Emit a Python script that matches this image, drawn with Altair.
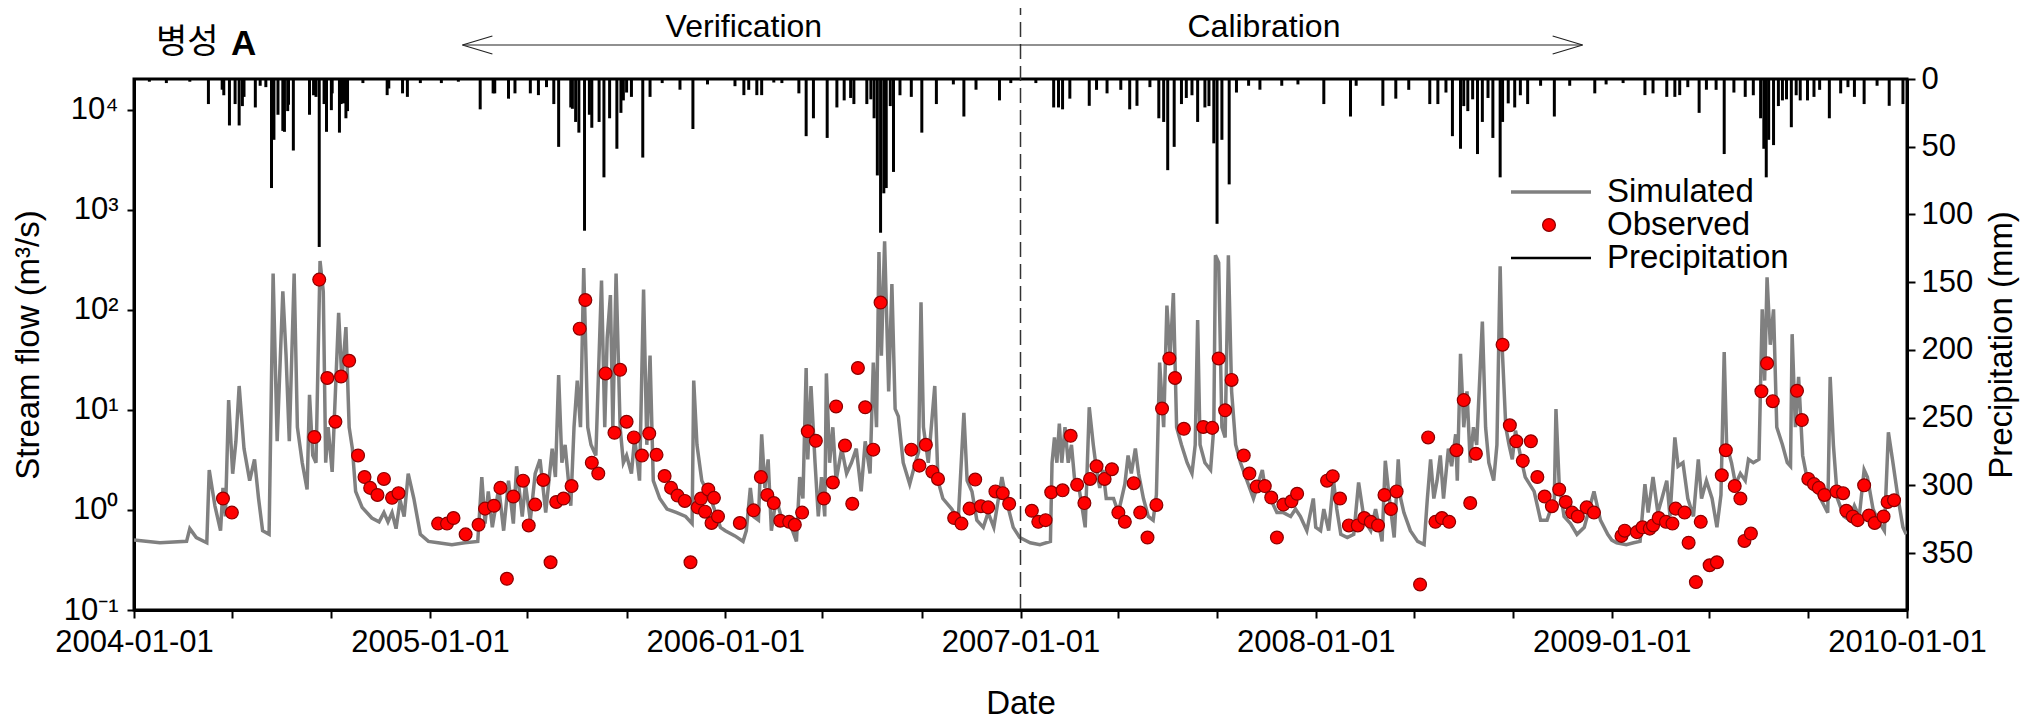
import altair as alt
import pandas as pd

# ---------------- data ----------------
sim_dates = [
    "2004-01-01","2004-02-02","2004-03-06","2004-03-10","2004-03-18","2004-03-31","2004-04-03","2004-04-10","2004-04-17","2004-04-20",
    "2004-04-23","2004-04-27","2004-05-02","2004-05-06","2004-05-10","2004-05-16","2004-05-23","2004-05-29","2004-06-03","2004-06-08",
    "2004-06-16","2004-06-21","2004-06-26","2004-07-03","2004-07-07","2004-07-11","2004-07-17","2004-07-21","2004-07-27","2004-08-02",
    "2004-08-05","2004-08-09","2004-08-13","2004-08-18","2004-08-22","2004-08-25","2004-08-28","2004-09-02","2004-09-10","2004-09-14",
    "2004-09-19","2004-09-23","2004-09-27","2004-10-01","2004-10-09","2004-10-21","2004-10-30","2004-11-05","2004-11-10","2004-11-15",
    "2004-11-20","2004-11-25","2004-11-30","2004-12-05","2004-12-12","2004-12-20","2004-12-30",
    "2005-01-11","2005-01-28","2005-02-13","2005-03-01","2005-03-06","2005-03-10","2005-03-14","2005-03-19","2005-03-27","2005-04-02",
    "2005-04-08","2005-04-14","2005-04-18","2005-04-25","2005-04-29","2005-05-05","2005-05-11","2005-05-17","2005-05-24","2005-06-01",
    "2005-06-05","2005-06-09","2005-06-13","2005-06-17","2005-06-24","2005-06-28","2005-07-02","2005-07-06","2005-07-10","2005-07-15",
    "2005-07-19","2005-07-25","2005-08-01","2005-08-05","2005-08-08","2005-08-12","2005-08-15","2005-08-19","2005-08-24","2005-08-28",
    "2005-09-01","2005-09-07","2005-09-11","2005-09-17","2005-09-22","2005-09-26","2005-09-30","2005-10-04","2005-10-12","2005-10-21",
    "2005-11-02","2005-11-13","2005-11-21","2005-11-23","2005-11-27","2005-12-03","2005-12-14","2005-12-26",
    "2006-01-01","2006-01-13","2006-01-23","2006-01-27","2006-02-01","2006-02-05","2006-02-11","2006-02-15","2006-02-19","2006-02-23",
    "2006-02-27","2006-03-05","2006-03-11","2006-03-22","2006-03-30","2006-04-03","2006-04-07","2006-04-11","2006-04-13","2006-04-17",
    "2006-04-22","2006-04-26","2006-04-30","2006-05-04","2006-05-06","2006-05-10","2006-05-14","2006-05-18","2006-05-25","2006-05-31",
    "2006-06-06","2006-06-12","2006-06-18","2006-06-23","2006-06-29","2006-07-03","2006-07-07","2006-07-10","2006-07-13","2006-07-17",
    "2006-07-22","2006-07-26","2006-07-30","2006-08-03","2006-08-09","2006-08-17","2006-08-24","2006-08-28","2006-08-31","2006-09-03",
    "2006-09-09","2006-09-17","2006-09-21","2006-09-27","2006-10-08","2006-10-16","2006-10-23","2006-10-27","2006-11-02","2006-11-08",
    "2006-11-16","2006-11-22","2006-11-29","2006-12-09","2006-12-15","2006-12-23","2006-12-31",
    "2007-01-13","2007-01-25","2007-02-07","2007-02-09","2007-02-12","2007-02-15","2007-02-18","2007-02-21","2007-02-25","2007-03-01",
    "2007-03-05","2007-03-09","2007-03-15","2007-03-22","2007-03-27","2007-04-01","2007-04-05","2007-04-09","2007-04-13","2007-04-17",
    "2007-04-26","2007-05-02","2007-05-06","2007-05-10","2007-05-14","2007-05-18","2007-05-23","2007-05-27","2007-06-02","2007-06-08",
    "2007-06-14","2007-06-18","2007-06-22","2007-06-27","2007-07-01","2007-07-05","2007-07-09","2007-07-13","2007-07-19","2007-07-26",
    "2007-08-01","2007-08-05","2007-08-08","2007-08-11","2007-08-17","2007-08-24","2007-08-28","2007-08-30","2007-09-03","2007-09-07",
    "2007-09-11","2007-09-15","2007-09-19","2007-09-24","2007-09-30","2007-10-08","2007-10-16","2007-10-27","2007-10-31","2007-11-06",
    "2007-11-14","2007-11-22","2007-12-01","2007-12-07","2007-12-13","2007-12-21","2007-12-29",
    "2008-01-01","2008-01-07","2008-01-11","2008-01-17","2008-01-23","2008-01-27","2008-02-01","2008-02-09","2008-02-17","2008-02-23",
    "2008-03-01","2008-03-09","2008-03-15","2008-03-23","2008-03-27","2008-04-01","2008-04-07","2008-04-12","2008-04-15","2008-04-19",
    "2008-04-27","2008-05-06","2008-05-14","2008-05-18","2008-05-22","2008-05-26","2008-05-30","2008-06-03","2008-06-07","2008-06-13",
    "2008-06-17","2008-06-22","2008-06-24","2008-06-28","2008-07-02","2008-07-06","2008-07-10","2008-07-14","2008-07-18","2008-07-25",
    "2008-07-29","2008-08-02","2008-08-08","2008-08-12","2008-08-16","2008-08-18","2008-08-23","2008-08-27","2008-08-31","2008-09-04",
    "2008-09-10","2008-09-16","2008-09-27","2008-10-05","2008-10-13","2008-10-22","2008-10-24","2008-10-28","2008-11-03","2008-11-11",
    "2008-11-19","2008-11-28","2008-12-10","2008-12-18","2008-12-27",
    "2009-01-01","2009-01-07","2009-01-19","2009-01-28","2009-02-05","2009-02-11","2009-02-15","2009-02-21","2009-02-27","2009-03-04",
    "2009-03-10","2009-03-14","2009-03-20","2009-03-24","2009-03-30","2009-04-05","2009-04-12","2009-04-18","2009-04-22","2009-04-28",
    "2009-05-05","2009-05-11","2009-05-16","2009-05-20","2009-05-23","2009-05-29","2009-06-03","2009-06-09","2009-06-15","2009-06-19",
    "2009-06-25","2009-07-02","2009-07-06","2009-07-09","2009-07-12","2009-07-16","2009-07-20","2009-07-24","2009-07-31","2009-08-06",
    "2009-08-10","2009-08-12","2009-08-16","2009-08-20","2009-08-25","2009-08-31","2009-09-08","2009-09-16","2009-09-25","2009-09-28",
    "2009-10-02","2009-10-07","2009-10-15","2009-10-22","2009-10-28","2009-11-03","2009-11-09","2009-11-13","2009-11-20","2009-11-26",
    "2009-12-04","2009-12-09","2009-12-14","2009-12-21","2009-12-27","2009-12-31",
]
sim_q = [
    0.50,0.47,0.485,0.65,0.53,0.47,2.5,1.1,0.62,1.66,
    0.86,12.5,2.3,4.85,17.3,4.1,1.96,3.2,1.3,0.62,
    0.57,230,4.85,153,34.8,4.85,230,6.7,2.96,1.6,
    14.1,3.5,2.96,307,153,2.96,6.7,2.4,93,19.6,
    67,6.7,4.1,1.53,1.06,0.83,0.76,0.94,0.76,0.94,
    0.65,1.25,0.86,2.3,1.3,0.57,0.485,
    0.47,0.45,0.47,0.485,2.13,0.73,1.53,0.67,1.66,0.62,
    1.96,0.73,2.73,0.86,1.81,0.79,2.31,3.2,0.94,4.1,
    2.13,22.2,2.96,4.47,1.1,6.7,19.6,6.7,261,6.7,
    4.47,3.5,196,6.7,52,140,6.7,230,6.7,2.96,
    3.5,2.31,5.3,1.96,159,4.47,34.8,1.96,1.3,1.02,
    0.94,0.86,0.73,19.6,4.47,1.96,1.3,0.67,
    0.62,0.55,0.485,0.62,1.66,0.86,0.79,5.7,1.66,3.2,
    0.62,1.3,0.86,0.73,0.485,2.13,1.3,26.2,3.2,17.3,
    2.96,0.86,2.13,0.86,23.1,2.96,6.7,1.96,4.1,2.31,
    2.96,4.1,1.53,4.85,2.31,29.6,6.7,378,34.8,483,
    15.3,181,10.2,8.6,2.96,1.81,2.96,3.8,119,6.7,
    2.96,17.3,1.96,1.3,1.02,0.79,9.35,1.96,1.53,0.79,
    0.67,0.94,0.67,2.13,1.2,0.67,0.53,
    0.47,0.45,0.485,2.96,5.3,2.96,7.3,2.96,6.7,2.96,
    4.47,1.96,1.53,0.67,10.6,4.47,2.51,1.66,2.51,1.3,
    1.3,0.94,1.3,1.81,3.5,2.31,4.1,2.31,1.3,0.86,
    0.79,1.41,29.6,6.7,110,34.8,147,6.7,4.47,2.96,
    2.31,4.47,79,4.47,2.96,2.51,6.7,350,296,6.7,
    5.3,350,15.3,4.47,2.96,1.96,1.3,2.51,1.53,1.3,
    0.94,0.94,0.86,1.02,0.86,0.62,1.3,
    0.67,0.62,1.02,0.62,1.96,1.02,0.57,0.53,0.57,1.88,
    0.79,0.62,1.02,0.485,3.1,1.3,0.53,3.2,1.3,0.94,
    0.62,0.485,0.45,1.3,3.2,1.3,1.96,3.5,1.3,4.1,
    2.73,5.7,1.96,36.3,6.7,15.3,2.96,6.7,4.47,76,
    6.7,2.96,1.96,4.47,272,52,6.7,4.47,3.2,6.2,
    3.5,2.13,1.53,0.79,0.79,1.3,10.2,1.81,0.86,0.73,
    0.57,0.67,1.53,0.79,0.57,
    0.5,0.47,0.45,0.47,0.485,1.81,0.94,2.13,0.94,1.3,
    1.96,0.86,5.3,2.73,2.96,1.3,0.86,3.2,1.3,1.96,
    1.3,0.67,1.41,37.8,4.47,2.96,1.81,2.31,1.96,3.2,
    2.96,3.2,101,19.6,211,44.7,101,6.7,4.47,2.96,
    2.73,57,6.7,21.3,3.5,1.96,1.81,1.3,0.94,21.3,
    4.47,1.3,0.86,0.79,1.1,0.86,2.51,2.13,1.02,0.79,
    0.62,5.96,3.2,1.3,0.67,0.57,
]

obs_dates = [
    "2004-04-20","2004-05-01","2004-08-11","2004-08-17","2004-08-27","2004-09-06","2004-09-13","2004-09-23","2004-10-04","2004-10-12",
    "2004-10-19","2004-10-28","2004-11-05","2004-11-15","2004-11-23",
    "2005-01-11","2005-01-22","2005-01-30","2005-02-14","2005-03-02","2005-03-10","2005-03-21","2005-03-29","2005-04-06","2005-04-14",
    "2005-04-26","2005-05-03","2005-05-11","2005-05-21","2005-05-30","2005-06-06","2005-06-15","2005-06-25","2005-07-05","2005-07-12",
    "2005-07-20","2005-07-28","2005-08-06","2005-08-17","2005-08-24","2005-09-01","2005-09-10","2005-09-20","2005-09-29","2005-10-08",
    "2005-10-18","2005-10-26","2005-11-03","2005-11-12","2005-11-19","2005-11-28","2005-12-02","2005-12-07","2005-12-11","2005-12-15",
    "2005-12-18","2005-12-23",
    "2006-01-19","2006-02-05","2006-02-14","2006-02-22","2006-03-02","2006-03-10","2006-03-21","2006-03-28","2006-04-06","2006-04-13",
    "2006-04-23","2006-05-03","2006-05-14","2006-05-18","2006-05-29","2006-06-07","2006-06-14","2006-06-23","2006-07-03","2006-07-12",
    "2006-08-19","2006-08-29","2006-09-06","2006-09-14","2006-09-21","2006-10-11","2006-10-20","2006-10-30","2006-11-06","2006-11-13",
    "2006-11-22","2006-12-01","2006-12-10","2006-12-18",
    "2007-01-15","2007-01-23","2007-02-01","2007-02-08","2007-02-22","2007-03-04","2007-03-12","2007-03-21","2007-03-28","2007-04-05",
    "2007-04-15","2007-04-24","2007-05-02","2007-05-10","2007-05-21","2007-05-29","2007-06-07","2007-06-18","2007-06-25","2007-07-04",
    "2007-07-11","2007-07-22","2007-08-15","2007-08-26","2007-09-03","2007-09-11","2007-09-19","2007-10-04","2007-10-11","2007-10-20",
    "2007-10-30","2007-11-07","2007-11-14","2007-11-22","2007-12-02","2007-12-09",
    "2008-01-15","2008-01-22","2008-01-31","2008-02-11","2008-02-22","2008-03-01","2008-03-09","2008-03-18","2008-03-26","2008-04-03",
    "2008-04-10","2008-05-09","2008-05-19","2008-05-28","2008-06-05","2008-06-14","2008-06-23","2008-07-02","2008-07-10","2008-07-17",
    "2008-08-19","2008-08-28","2008-09-05","2008-09-13","2008-09-23","2008-10-01","2008-10-10","2008-10-19","2008-10-28","2008-11-05",
    "2008-11-13","2008-11-20","2008-12-01","2008-12-10",
    "2009-01-13","2009-01-17","2009-02-01","2009-02-08","2009-02-17","2009-02-21","2009-02-28","2009-03-09","2009-03-17","2009-03-21",
    "2009-04-01","2009-04-06","2009-04-15","2009-04-21","2009-05-02","2009-05-11","2009-05-17","2009-05-22","2009-06-02","2009-06-09",
    "2009-06-14","2009-06-22","2009-07-05","2009-07-12","2009-07-19","2009-08-18","2009-08-24","2009-09-01","2009-09-08","2009-09-14",
    "2009-09-21","2009-10-06","2009-10-14","2009-10-18","2009-10-26","2009-11-01","2009-11-09","2009-11-15","2009-11-22","2009-12-03",
    "2009-12-08","2009-12-16",
]
obs_q = [
    1.30,0.94,5.35,200,20.8,7.6,21.5,30.9,3.5,2.13,
    1.66,1.41,2.04,1.32,1.47,
    0.73,0.73,0.83,0.57,0.71,1.03,1.10,1.66,0.205,1.36,
    1.96,0.70,1.13,1.99,0.30,1.20,1.30,1.73,64.7,125,
    2.96,2.31,23.1,5.9,25.1,7.6,5.3,3.49,5.8,3.55,
    2.18,1.66,1.39,1.23,0.30,1.06,1.30,0.96,1.6,0.74,
    1.32,0.86,
    0.74,0.99,2.13,1.41,1.17,0.78,0.76,0.71,0.94,6.1,
    4.9,1.30,1.88,10.8,4.4,1.15,26.2,10.6,4.0,118,
    4.0,2.77,4.47,2.41,2.04,0.83,0.73,1.03,2.01,1.09,
    1.06,1.53,1.47,1.15,
    0.98,0.76,0.79,1.50,1.57,5.5,1.78,1.17,2.04,2.73,
    2.04,2.55,0.94,0.76,1.85,0.94,0.53,1.12,10.3,32.6,
    20.8,6.46,6.74,6.6,32.6,9.9,19.9,3.49,2.31,1.71,
    1.73,1.33,0.53,1.13,1.22,1.45,
    1.96,2.17,1.30,0.70,0.70,0.83,0.76,0.70,1.41,1.02,
    1.53,0.18,5.3,0.76,0.83,0.76,3.95,12.5,1.17,3.64,
    44.7,7.0,4.85,3.09,4.85,2.13,1.36,1.09,1.60,1.20,
    0.94,0.86,1.06,0.94,
    0.55,0.62,0.60,0.67,0.65,0.70,0.83,0.76,0.73,1.03,
    0.94,0.47,0.19,0.76,0.28,0.30,2.22,3.95,1.73,1.30,
    0.49,0.58,15.3,29.1,12.2,15.5,7.9,2.04,1.81,1.66,
    1.41,1.53,1.47,0.98,0.86,0.79,1.76,0.88,0.74,0.86,
    1.20,1.25,
]

rain_dates = [
    "2004-04-02","2004-04-19","2004-04-28","2004-05-05","2004-05-10","2004-05-16","2004-05-30","2004-06-19","2004-06-22","2004-06-27",
    "2004-07-03","2004-07-09","2004-07-16","2004-08-05","2004-08-13","2004-08-17","2004-08-23","2004-09-02","2004-09-11","2004-09-13",
    "2004-09-19","2004-09-21","2004-11-09","2004-11-28","2004-12-04",
    "2004-01-20","2004-02-10","2004-03-10","2004-04-21","2004-05-14","2004-06-05","2004-06-12","2004-07-05","2004-07-10","2004-08-10",
    "2004-08-26","2004-09-01","2004-09-16","2004-10-10","2004-11-11","2004-12-20",
    "2005-03-04","2005-03-20","2005-04-08","2005-04-16","2005-05-05","2005-05-15","2005-06-03","2005-06-09","2005-06-24","2005-06-30",
    "2005-07-04","2005-07-11","2005-07-17","2005-07-29","2005-08-04","2005-08-11","2005-08-20","2005-08-28","2005-09-07","2005-09-21",
    "2005-09-30","2005-11-06","2005-11-22",
    "2005-01-15","2005-02-05","2005-03-22","2005-05-25","2005-06-26","2005-07-20","2005-08-25","2005-09-01","2005-10-15","2005-12-10",
    "2006-01-13","2006-01-24","2006-02-09","2006-02-15","2006-03-02","2006-04-02","2006-04-11","2006-04-20","2006-05-07","2006-05-19",
    "2006-05-28","2006-06-09","2006-06-25","2006-07-04","2006-07-08","2006-07-12","2006-07-16","2006-07-19","2006-07-28","2006-08-19",
    "2006-09-01","2006-09-19","2006-10-23","2006-11-07","2006-12-06",
    "2006-01-30","2006-03-12","2006-06-05","2006-06-30","2006-07-24","2006-08-05","2006-10-10","2006-12-20",
    "2007-02-11","2007-02-17","2007-02-22","2007-03-03","2007-03-27","2007-04-18","2007-05-16","2007-05-25","2007-06-21","2007-06-27",
    "2007-07-02","2007-07-10","2007-07-19","2007-08-08","2007-08-17","2007-08-28","2007-09-01","2007-09-07","2007-09-16","2007-10-24",
    "2007-01-20","2007-04-05","2007-05-05","2007-06-10","2007-07-25","2007-08-01","2007-08-22","2007-09-25","2007-10-10","2007-11-20",
    "2007-12-10",
    "2008-01-11","2008-02-13","2008-03-24","2008-04-09","2008-05-21","2008-05-31","2008-06-18","2008-06-28","2008-07-07","2008-07-19",
    "2008-07-25","2008-08-07","2008-08-16","2008-08-19","2008-09-03","2008-09-19","2008-10-22","2008-12-11",
    "2008-02-20","2008-04-25","2008-06-10","2008-07-02","2008-07-13","2008-08-01","2008-08-26","2008-09-10","2008-10-05","2008-11-10",
    "2008-12-25",
    "2009-02-11","2009-02-21","2009-03-10","2009-03-20","2009-03-26","2009-04-19","2009-04-28","2009-05-20","2009-06-15","2009-07-04",
    "2009-07-08","2009-07-11","2009-07-14","2009-07-20","2009-07-31","2009-08-11","2009-08-22","2009-08-31","2009-09-08","2009-09-27",
    "2009-10-11","2009-10-28","2009-11-09","2009-12-10","2009-12-27",
    "2009-01-15","2009-04-05","2009-05-10","2009-06-01","2009-06-25","2009-07-26","2009-08-05","2009-08-17","2009-09-15","2009-10-20",
    "2009-11-25",
]
rain_mm = [
    18.5,7.9,34.3,18.5,34.3,13.2,21,80.5,44.9,26.4,
    38.3,23.7,52.8,26.4,13.2,124,18.5,10.6,39.6,18.5,
    29,23.7,11.9,10.6,13.2,
    2,3,2,12,20,5,6,39,19,12,
    39,23,18,3,7,3,
    22.4,10.6,14.5,10.6,10.6,11.9,18.5,50.1,21,31.7,
    39.6,112,26.4,31.7,72.6,29,51.5,15.8,13.2,58,
    13.2,7.9,36.9,
    3,2,10.6,6,22,36,25,10,3,4,
    5.3,11.9,11.9,11.9,2.6,10.6,42.2,29,43.5,21,
    15.8,18.5,18.5,29,71.2,113.5,84.4,80.5,68.6,13.2,
    39.6,18.5,27.7,7.9,15.8,
    8,3,14,15,20,12,4,3,
    21,21,22.4,14.5,19.8,10.6,22.4,19.8,29,31.7,
    67.3,50.1,18.5,31.7,21,47.5,106.9,44.9,77.8,7.9,
    3,8,8,6,14,12,20,10,5,5,
    4,
    18.5,27.7,19.8,14.5,18.5,18.5,42.2,51.5,23.7,55.4,
    31.7,43.5,72.6,31.7,21,18.5,27.7,10.6,
    5,8,10,20,15,14,18,12,5,5,
    4,
    11.9,10.6,13.2,13.2,11.9,25,7.9,55.4,13.2,29,
    51.5,72.6,44.9,48.8,15.8,35.6,15.8,15.8,13.2,29,
    10.6,13.2,18.5,19.8,18.5,
    3,6,8,10,12,20,15,12,8,6,
    5,
]

flow_ticks = [0.1, 1, 10, 100, 1000, 10000]
rain_ticks = [0, 50, 100, 150, 200, 250, 300, 350]
legend_labels = ["Simulated", "Observed", "Precipitation"]
period_labels = ["Verification", "Calibration"]

# ---------------- chart ----------------
FONT = "Liberation Sans"
W, H = 1773, 531

sim = pd.DataFrame({"date": sim_dates, "q": sim_q})
obs = pd.DataFrame({"date": obs_dates, "q": obs_q})
rain = pd.DataFrame({"date": rain_dates, "p": rain_mm})

def ms(s):
    return int(pd.Timestamp(s).value // 10**6)

x_ticks = [ms(f"{y}-{m:02d}-01") for y in range(2004, 2010) for m in (1, 5, 9)] + [ms("2010-01-01")]

x_scale = alt.Scale(type="utc", domain=[ms("2004-01-01"), ms("2010-01-01")], nice=False)
x_axis = alt.Axis(
    values=x_ticks,
    labelExpr="utcmonth(datum.value) == 0 ? utcFormat(datum.value, '%Y-%m-%d') : ''",
    title="Date", grid=False, tickSize=8, labelPadding=9, labelFlush=False,
    titleX=W / 2, titleY=93, titleBaseline="middle", titleAlign="center",
)
X = alt.X("date:T", scale=x_scale, axis=x_axis)

flow_scale = alt.Scale(type="log", domain=[0.1, 20200], nice=False)
flow_axis = alt.Axis(
    orient="left", values=flow_ticks, grid=False, tickSize=7, labelPadding=9,
    labelExpr="datum.value < 0.5 ? '10\u207b\u00b9' : datum.value < 5 ? '10\u2070' : datum.value < 50 ? '10\u00b9' : datum.value < 500 ? '10\u00b2' : datum.value < 5000 ? '10\u00b3' : '10\u2074'",
    title="Stream flow (m\u00b3/s)",
    titleX=-106, titleY=H / 2, titleAngle=270, titleBaseline="middle", titleAlign="center",
)

line = alt.Chart(sim).mark_line(color="#808080", strokeWidth=3.5, clip=True).encode(
    x=X, y=alt.Y("q:Q", scale=flow_scale, axis=flow_axis)
)
pts = alt.Chart(obs).mark_point(
    filled=True, shape="circle", size=165, fill="#FF0000", stroke="#8B0000",
    strokeWidth=1.2, opacity=1,
).encode(x=X, y=alt.Y("q:Q", scale=flow_scale, axis=flow_axis))

flow = alt.layer(line, pts)

rain_layer = alt.Chart(rain).mark_rule(color="black", strokeWidth=3).encode(
    x=X,
    y=alt.Y("p:Q", scale=alt.Scale(domain=[0, 392], reverse=True, nice=False),
            axis=alt.Axis(orient="right", values=rain_ticks, grid=False, tickSize=8,
                          labelPadding=6, title="Precipitation (mm)",
                          titleX=94, titleY=H / 2, titleAngle=270,
                          titleBaseline="middle", titleAlign="center")),
    y2=alt.datum(0),
)

# dashed separator between verification and calibration periods
sep = alt.Chart(pd.DataFrame({"date": ["2007-01-01"]})).mark_rule(
    color="#333333", strokeWidth=1.5, strokeDash=[15, 7]
).encode(x=X, y=alt.value(-79), y2=alt.value(H))

# period arrow
arrow_df = pd.DataFrame({"date": ["2005-02-10"], "date2": ["2008-11-26"]})
arrow = alt.Chart(arrow_df).mark_rule(color="#222222", strokeWidth=1.2).encode(
    x=X, x2="date2:T", y=alt.value(-34)
)
heads = alt.Chart(pd.DataFrame({
    "date": ["2005-02-10", "2008-11-26"],
    "shp": ["M0,0L2,-0.6M0,0L2,0.6", "M0,0L-2,-0.6M0,0L-2,0.6"],
})).mark_point(filled=False, color="#222222", strokeWidth=1.2, size=900, opacity=1).encode(
    x=X, y=alt.value(-34), shape=alt.Shape("shp:N", scale=None)
)
period_txt = alt.Chart(pd.DataFrame({
    "date": ["2006-01-24", "2007-10-29"], "t": period_labels,
})).mark_text(font=FONT, fontSize=32, color="black", baseline="middle").encode(
    x=X, y=alt.value(-52), text="t:N"
)

# panel label
lab1 = alt.Chart(pd.DataFrame({"t": ["병성"]})).mark_text(
    font="Noto Sans CJK KR", fontSize=34, align="left", baseline="middle", color="black"
).encode(x=alt.value(22), y=alt.value(-36), text="t:N")
lab2 = alt.Chart(pd.DataFrame({"t": ["A"]})).mark_text(
    font=FONT, fontSize=35, fontWeight="bold", align="left", baseline="middle", color="black"
).encode(x=alt.value(97), y=alt.value(-35), text="t:N")

# legend
lg_line = alt.Chart(pd.DataFrame({"k": [0]})).mark_rule(color="#808080", strokeWidth=3.5).encode(
    x=alt.value(1377), x2=alt.value(1457), y=alt.value(113))
lg_pt = alt.Chart(pd.DataFrame({"k": [0]})).mark_point(
    filled=True, shape="circle", size=165, fill="#FF0000", stroke="#8B0000", strokeWidth=1.2, opacity=1
).encode(x=alt.value(1415), y=alt.value(146))
lg_rain = alt.Chart(pd.DataFrame({"k": [0]})).mark_rule(color="black", strokeWidth=2.5).encode(
    x=alt.value(1377), x2=alt.value(1457), y=alt.value(179))
lg_txt = alt.Chart(pd.DataFrame({"t": legend_labels, "yy": [113, 146, 179]})).mark_text(
    font=FONT, fontSize=33, align="left", baseline="middle", color="black"
).encode(x=alt.value(1473), y=alt.Y("yy:Q", scale=None, axis=None), text="t:N")

chart = alt.layer(
    flow, rain_layer, sep, arrow, heads, period_txt, lab1, lab2, lg_line, lg_pt, lg_rain, lg_txt
).resolve_scale(y="independent").properties(
    width=W, height=H,
    autosize=alt.AutoSizeParams(type="none"),
    padding={"left": 126, "top": 71, "right": 120, "bottom": 112},
).configure_view(stroke="black", strokeWidth=3).configure_axis(
    labelFont=FONT, titleFont=FONT, labelFontSize=31, titleFontSize=33,
    labelColor="black", titleColor="black", titleFontWeight="normal",
    domainColor="black", domainWidth=3, tickColor="black", tickWidth=2,
)

chart.save("out.html", embed_options={"renderer": "svg", "actions": False})
